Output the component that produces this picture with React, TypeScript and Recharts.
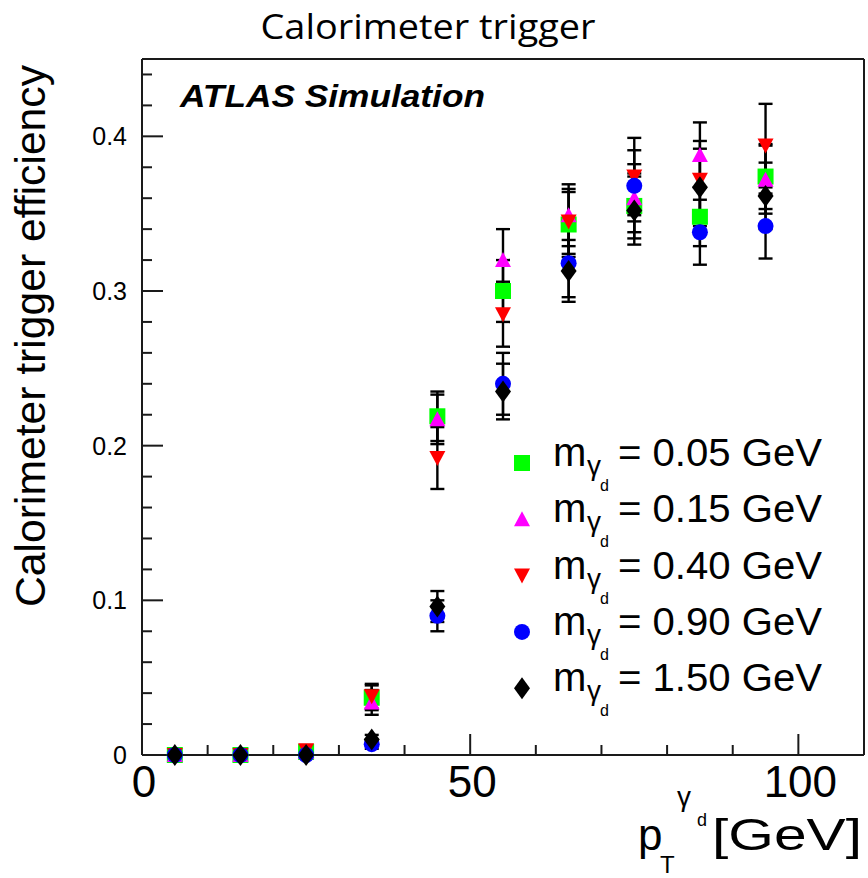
import React from "react";
import { ScatterChart, Scatter, XAxis, YAxis, ErrorBar } from "recharts";

// transverse momentum bin centres [GeV]
const ptBins = [5, 15, 25, 35, 45, 55, 65, 75, 85, 95];

// efficiency per dark-photon mass point
const eff005 = [0, 0, 0.002, 0.037, 0.219, 0.3, 0.343, 0.355, 0.348, 0.374];
const err005 = [0, 0, 0.001, 0.008, 0.016, 0.02, 0.021, 0.021, 0.019, 0.021];
const eff015 = [0, 0, 0.002, 0.034, 0.217, 0.32, 0.349, 0.36, 0.388, 0.372];
const err015 = [0, 0, 0.001, 0.008, 0.016, 0.02, 0.02, 0.022, 0.021, 0.022];
const eff040 = [0, 0, 0.003, 0.038, 0.192, 0.285, 0.345, 0.374, 0.372, 0.394];
const err040 = [0, 0, 0.002, 0.008, 0.02, 0.021, 0.021, 0.025, 0.025, 0.027];
const eff090 = [0, 0, 0, 0.007, 0.09, 0.24, 0.318, 0.368, 0.338, 0.342];
const err090 = [0, 0, 0, 0.003, 0.01, 0.02, 0.022, 0.023, 0.021, 0.021];
const eff150 = [0, 0, 0, 0.01, 0.096, 0.235, 0.313, 0.352, 0.367, 0.3615];
const err150 = [0, 0, 0, 0.003, 0.01, 0.018, 0.02, 0.022, 0.025, 0.0215];

const massLabels = ["0.05", "0.15", "0.40", "0.90", "1.50"];
const markerKinds = ["square", "triangleUp", "triangleDown", "circle", "diamond"];
const markerColors = ["#00ff00", "#ff00ff", "#ff0000", "#0000ff", "#000000"];

const xTicks = [0, 10, 20, 30, 40, 50, 60, 70, 80, 90, 100, 110];
const xTickLabels: Record<number, string> = { 0: "0", 50: "50", 100: "100" };
const yTicks = [0, 0.02, 0.04, 0.06, 0.08, 0.1, 0.12, 0.14, 0.16, 0.18, 0.2, 0.22, 0.24, 0.26, 0.28, 0.3, 0.32, 0.34, 0.36, 0.38, 0.4, 0.42, 0.44];
const yTickLabels: Record<string, string> = { "0": "0", "0.1": "0.1", "0.2": "0.2", "0.3": "0.3", "0.4": "0.4" };

const W = 868;
const H = 878;
const FRAME = "#1a1a1a";
const FONT = "'Liberation Sans', Arial, Helvetica, sans-serif";

const seriesEff = [eff005, eff015, eff040, eff090, eff150];
const seriesErr = [err005, err015, err040, err090, err150];

const series = seriesEff.map((eff, s) =>
  ptBins.map((pt, i) => ({ pt, eff: eff[i], err: seriesErr[s][i] }))
);

const Marker = ({ kind, cx, cy, color }: { kind: string; cx: number; cy: number; color: string }) => {
  const r = 8;
  if (kind === "square") return <rect x={cx - r} y={cy - r} width={2 * r} height={2 * r} fill={color} />;
  if (kind === "circle") return <circle cx={cx} cy={cy} r={r} fill={color} />;
  if (kind === "triangleUp")
    return <polygon points={`${cx},${cy - r} ${cx + r},${cy + r - 1} ${cx - r},${cy + r - 1}`} fill={color} />;
  if (kind === "triangleDown")
    return <polygon points={`${cx - r},${cy - r + 1} ${cx + r},${cy - r + 1} ${cx},${cy + r}`} fill={color} />;
  return <polygon points={`${cx},${cy - 11} ${cx + 8},${cy} ${cx},${cy + 11} ${cx - 8},${cy}`} fill={color} />;
};

const isMajorX = (v: number) => v % 50 === 0;
const isMajorY = (v: number) => Math.abs(v * 10 - Math.round(v * 10)) < 1e-6;

const BottomTick = (props: any) => {
  const { x, y, payload } = props;
  const v = payload.value;
  const len = isMajorX(v) ? 21 : 10;
  return (
    <g>
      <line x1={x} y1={y} x2={x} y2={y - len} stroke={FRAME} strokeWidth={2} />
      {xTickLabels[v] !== undefined && (
        <text x={x + 2} y={y + 42} textAnchor="middle" fontSize={44} fontFamily={FONT} fill="#000">
          {xTickLabels[v]}
        </text>
      )}
    </g>
  );
};

const TopTick = (props: any) => {
  const { x, y, payload } = props;
  const len = isMajorX(payload.value) ? 21 : 10;
  return <line x1={x} y1={y} x2={x} y2={y + len} stroke={FRAME} strokeWidth={2} />;
};

const LeftTick = (props: any) => {
  const { x, y, payload } = props;
  const v = payload.value;
  const major = isMajorY(v);
  const key = String(Math.round(v * 10) / 10);
  return (
    <g>
      <line x1={x} y1={y} x2={x + (major ? 21 : 10)} y2={y} stroke={FRAME} strokeWidth={2} />
      {major && (
        <text x={x - 15} y={y + 9} textAnchor="end" fontSize={25} fontFamily={FONT} fill="#000">
          {yTickLabels[key]}
        </text>
      )}
    </g>
  );
};

const RightTick = (props: any) => {
  const { x, y, payload } = props;
  const len = isMajorY(payload.value) ? 21 : 10;
  return <line x1={x} y1={y} x2={x - len} y2={y} stroke={FRAME} strokeWidth={2} />;
};

const axisLine = { stroke: FRAME, strokeWidth: 2 };

export default function App() {
  return (
    <div style={{ position: "absolute", left: 0, top: 0, width: W, height: H, background: "#fff" }}>
      <ScatterChart width={W} height={H} margin={{ top: 58, right: 3, bottom: 122, left: 141 }}>
        <XAxis
          xAxisId="bottom"
          orientation="bottom"
          type="number"
          dataKey="pt"
          domain={[0, 110]}
          ticks={xTicks}
          interval={0}
          height={1}
          tickSize={0}
          tickMargin={0}
          tickLine={false}
          axisLine={axisLine}
          tick={BottomTick}
        />
        <XAxis
          xAxisId="top"
          orientation="top"
          type="number"
          dataKey="pt"
          domain={[0, 110]}
          ticks={xTicks}
          interval={0}
          height={1}
          tickSize={0}
          tickMargin={0}
          tickLine={false}
          axisLine={axisLine}
          tick={TopTick}
        />
        <YAxis
          yAxisId="left"
          orientation="left"
          type="number"
          dataKey="eff"
          domain={[0, 0.45]}
          ticks={yTicks}
          interval={0}
          width={1}
          tickSize={0}
          tickMargin={0}
          tickLine={false}
          axisLine={axisLine}
          tick={LeftTick}
        />
        <YAxis
          yAxisId="right"
          orientation="right"
          type="number"
          dataKey="eff"
          domain={[0, 0.45]}
          ticks={yTicks}
          interval={0}
          width={1}
          tickSize={0}
          tickMargin={0}
          tickLine={false}
          axisLine={axisLine}
          tick={RightTick}
        />
        {series.map((data, s) => (
          <Scatter
            key={massLabels[s]}
            name={massLabels[s]}
            data={data}
            dataKey="eff"
            xAxisId="bottom"
            yAxisId="left"
            isAnimationActive={false}
            shape={(p: any) => <Marker kind={markerKinds[s]} cx={p.cx} cy={p.cy} color={markerColors[s]} />}
          >
            <ErrorBar dataKey="err" direction="y" width={7} stroke="#000" strokeWidth={2.4} isAnimationActive={false} />
          </Scatter>
        ))}
      </ScatterChart>

      <svg width={W} height={H} style={{ position: "absolute", left: 0, top: 0, pointerEvents: "none" }}>
        <text x={428} y={39} textAnchor="middle" fontSize={34} fontFamily="'Open Sans', sans-serif" textLength={335} lengthAdjust="spacingAndGlyphs" fill="#000">
          Calorimeter trigger
        </text>
        <text x={180} y={107} fontSize={32} fontWeight="bold" fontStyle="italic" fontFamily={FONT} textLength={305} lengthAdjust="spacingAndGlyphs" fill="#000">
          ATLAS Simulation
        </text>
        <text
          transform="translate(45,336) rotate(-90)"
          textAnchor="middle"
          fontSize={42}
          fontFamily={FONT}
          textLength={542}
          lengthAdjust="spacingAndGlyphs"
          fill="#000"
        >
          Calorimeter trigger efficiency
        </text>
        <g fontFamily={FONT} fill="#000">
          <text x={638} y={850} fontSize={44}>p</text>
          <text x={660} y={873} fontSize={24}>T</text>
          <text x={677} y={806} fontSize={28}>γ</text>
          <text x={697} y={826} fontSize={18}>d</text>
          <text x={712} y={850} fontSize={44} textLength={150} lengthAdjust="spacingAndGlyphs">[GeV]</text>
        </g>
        {massLabels.map((m, i) => {
          const cy = 463 + 56.3 * i;
          const base = cy + 3;
          return (
            <g key={m} fontFamily={FONT} fill="#000">
              <Marker kind={markerKinds[i]} cx={522} cy={cy} color={markerColors[i]} />
              <text x={553} y={base} fontSize={40}>m</text>
              <text x={587} y={base + 9} fontSize={28}>γ</text>
              <text x={600} y={base + 25} fontSize={16}>d</text>
              <text x={618} y={base} fontSize={39} textLength={204} lengthAdjust="spacingAndGlyphs">{`= ${m} GeV`}</text>
            </g>
          );
        })}
      </svg>
    </div>
  );
}
